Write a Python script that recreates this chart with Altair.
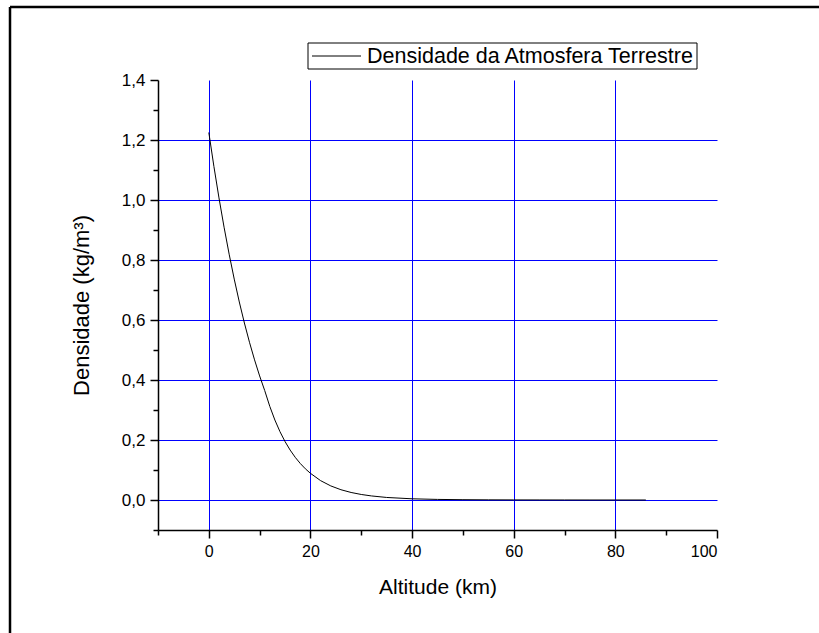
import altair as alt
import pandas as pd

# US standard-atmosphere-like density profile
altitude_km = [0, 1, 2, 3, 4, 5, 6, 7, 8, 9, 10, 11, 12, 13, 14, 15, 16, 17, 18, 19,
               20, 22, 24, 26, 28, 30, 32, 35, 40, 45, 50, 55, 60, 65, 70, 75, 80, 86]
density = [1.225, 1.112, 1.007, 0.9093, 0.8194, 0.7364, 0.6601, 0.5900, 0.5258, 0.4671,
           0.4135, 0.3648, 0.3119, 0.2666, 0.2279, 0.1948, 0.1665, 0.1423, 0.1217, 0.1040,
           0.08891, 0.06451, 0.04694, 0.03426, 0.02508, 0.01841, 0.01355, 0.008463, 0.003996,
           0.001966, 0.001027, 0.0005681, 0.0003097, 0.0001632, 0.00008283, 0.00003992,
           0.00001846, 0.000006958]

x_ticks = [-10, 0, 10, 20, 30, 40, 50, 60, 70, 80, 90, 100]
y_ticks = [-0.1, 0.0, 0.1, 0.2, 0.3, 0.4, 0.5, 0.6, 0.7, 0.8, 0.9, 1.0, 1.1, 1.2, 1.3, 1.4]
legend_label = "Densidade da Atmosfera Terrestre"

TOTAL_W, TOTAL_H = 819, 633
W, H = 559, 450
PL, PT = 158, 80
FONT = "Liberation Sans"

df = pd.DataFrame({"alt": altitude_km, "rho": density})

x_axis = alt.Axis(
    values=x_ticks,
    labelExpr="datum.value >= 0 && datum.value % 20 == 0 ? datum.value : ''",
    grid=True,
    gridColor="#0000FF",
    gridWidth=1,
    gridOpacity={"condition": {"test": "datum.value >= 0 && datum.value < 100 && datum.value % 20 == 0", "value": 1}, "value": 0},
    tickSize={"condition": {"test": "datum.value >= 0 && datum.value % 20 == 0", "value": 8}, "value": 5},
    tickColor="black", tickWidth=1.5,
    domainColor="black", domainWidth=1.5,
    labelFont=FONT, labelFontSize=16, labelColor="black", labelPadding=5,
    title="Altitude (km)", titleFont=FONT, titleFontSize=21, titleFontWeight="normal",
    titleColor="black", titleY=63, titleBaseline="alphabetic",
)

y_axis = alt.Axis(
    values=y_ticks,
    labelExpr="round(datum.value*10) % 2 == 0 && datum.value > -0.05 ? replace(format(datum.value, '.1f'), '.', ',') : ''",
    grid=True,
    gridColor="#0000FF",
    gridWidth=1,
    gridOpacity={"condition": {"test": "round(datum.value*10) % 2 == 0 && datum.value > -0.05 && datum.value < 1.3", "value": 1}, "value": 0},
    tickSize={"condition": {"test": "round(datum.value*10) % 2 == 0 && datum.value > -0.05", "value": 8}, "value": 5},
    tickColor="black", tickWidth=1.5,
    domainColor="black", domainWidth=1.5,
    labelFont=FONT, labelFontSize=17, labelColor="black", labelPadding=5,
    title="Densidade (kg/m³)", titleFont=FONT, titleFontSize=22, titleFontWeight="normal",
    titleColor="black", titleX=-70, titleY=H / 2, titleBaseline="alphabetic", titleAngle=270,
)

line = alt.Chart(df).mark_line(color="black", strokeWidth=1, clip=True).encode(
    x=alt.X("alt:Q", scale=alt.Scale(domain=[-10, 100], nice=False, zero=False), axis=x_axis),
    y=alt.Y("rho:Q", scale=alt.Scale(domain=[-0.1, 1.4], nice=False, zero=False), axis=y_axis),
)

one = pd.DataFrame({"k": [0]})

# legend box
leg_box = alt.Chart(one).mark_rect(fill="white", stroke="black", strokeWidth=1).encode(
    x=alt.value(308 - PL), x2=alt.value(697 - PL), y=alt.value(43 - PT), y2=alt.value(69 - PT)
)
leg_line = alt.Chart(one).mark_rule(color="black", strokeWidth=1).encode(
    x=alt.value(312 - PL), x2=alt.value(361 - PL), y=alt.value(56 - PT)
)
leg_text = alt.Chart(one).mark_text(
    align="left", baseline="alphabetic", font=FONT, fontSize=21.5, color="black"
).encode(x=alt.value(367 - PL), y=alt.value(63 - PT), text=alt.value(legend_label))

# outer frame (left and top edges visible)
frame_top = alt.Chart(one).mark_rule(color="black", strokeWidth=2.5).encode(
    x=alt.value(10 - PL), x2=alt.value(TOTAL_W - PL), y=alt.value(7 - PT)
)
frame_left = alt.Chart(one).mark_rule(color="black", strokeWidth=2.5).encode(
    x=alt.value(10 - PL), y=alt.value(7 - PT), y2=alt.value(TOTAL_H - PT)
)

chart = alt.layer(line, leg_box, leg_line, leg_text, frame_top, frame_left).properties(
    width=W, height=H,
    autosize=alt.AutoSizeParams(type="none"),
    padding={"left": PL, "top": PT, "right": TOTAL_W - PL - W, "bottom": TOTAL_H - PT - H},
    background="white",
).configure_view(stroke=None)

chart.save("out.html", embed_options={"renderer": "svg", "actions": False})
